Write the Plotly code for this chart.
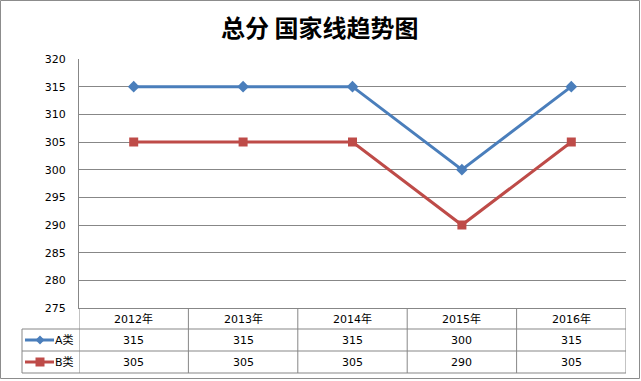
import plotly.graph_objects as go

years = ["2012年", "2013年", "2014年", "2015年", "2016年"]
series_names = ["A类", "B类"]
a_values = [315, 315, 315, 300, 315]
b_values = [305, 305, 305, 290, 305]
y_ticks = [275, 280, 285, 290, 295, 300, 305, 310, 315, 320]
title_text = "总分 国家线趋势图"

W, H = 641, 381
L, R, T, B = 79, 15, 59, 73
PW = W - L - R
PH = H - T - B

def px(x):
    return (x - L) / PW

def py(y):
    return (H - B - y) / PH

blue = "#4A7EBB"
red = "#BE4B48"
grid = "#878787"
font_fam = "DejaVu Sans, Verdana, Noto Sans CJK SC, sans-serif"

xs = list(range(len(years)))
fig = go.Figure()
fig.add_trace(go.Scatter(x=xs, y=a_values, mode="lines+markers", name=series_names[0],
                         line=dict(color=blue, width=3),
                         marker=dict(symbol="diamond", size=9, color=blue)))
fig.add_trace(go.Scatter(x=xs, y=b_values, mode="lines+markers", name=series_names[1],
                         line=dict(color=red, width=3),
                         marker=dict(symbol="square", size=9, color=red)))

shapes = []
line_style = dict(color=grid, width=1)
row_y = [329, 351, 373]
for yy in row_y:
    shapes.append(dict(type="line", xref="paper", yref="paper", x0=px(22), x1=1, y0=py(yy), y1=py(yy), line=line_style))
for k in range(len(years) + 1):
    shapes.append(dict(type="line", xref="x", yref="paper", x0=k - 0.5, x1=k - 0.5, y0=0, y1=py(373), line=line_style))
shapes.append(dict(type="line", xref="paper", yref="paper", x0=px(22), x1=px(22), y0=py(329), y1=py(373), line=line_style))
shapes.append(dict(type="rect", xref="paper", yref="paper", x0=px(0.5), x1=px(639.5), y0=py(0.5), y1=py(378.5),
                   line=dict(color="#8C8C8C", width=1)))

annotations = []
for i, yr in enumerate(years):
    annotations.append(dict(x=i, y=py(319), xref="x", yref="paper", text=yr, showarrow=False,
                            xanchor="center", yanchor="middle",
                            font=dict(size=11, color="black", family=font_fam)))
row_centers = [340, 362]
for vals, yc in zip([a_values, b_values], row_centers):
    for i, v in enumerate(vals):
        annotations.append(dict(x=i, y=py(yc), xref="x", yref="paper", text=str(v), showarrow=False,
                                xanchor="center", yanchor="middle",
                                font=dict(size=11, color="black", family=font_fam)))
for name, col, sym, yc in [(series_names[0], blue, "diamond", 340), (series_names[1], red, "square", 362)]:
    shapes.append(dict(type="line", xref="paper", yref="paper", x0=px(25), x1=px(54), y0=py(yc), y1=py(yc),
                       line=dict(color=col, width=3)))
    if sym == "diamond":
        path = f"M {px(40)} {py(yc-4.5)} L {px(44.5)} {py(yc)} L {px(40)} {py(yc+4.5)} L {px(35.5)} {py(yc)} Z"
        shapes.append(dict(type="path", xref="paper", yref="paper", path=path, fillcolor=col, line=dict(color=col, width=0)))
    else:
        shapes.append(dict(type="rect", xref="paper", yref="paper", x0=px(35.5), x1=px(44.5), y0=py(yc-4.5), y1=py(yc+4.5),
                           fillcolor=col, line=dict(color=col, width=0)))
    annotations.append(dict(x=px(53), y=py(yc), xref="paper", yref="paper", text=name, showarrow=False,
                            xanchor="left", yanchor="middle",
                            font=dict(size=11, color="black", family=font_fam)))

annotations.append(dict(x=px(319), y=py(27), xref="paper", yref="paper", text=f"<b>{title_text}</b>", showarrow=False,
                        xanchor="center", yanchor="middle",
                        font=dict(size=24, color="black", family="Noto Sans CJK SC, sans-serif")))

fig.update_layout(
    width=W, height=H,
    margin=dict(l=L, r=R, t=T, b=B),
    paper_bgcolor="white", plot_bgcolor="white",
    showlegend=False,
    shapes=shapes, annotations=annotations,
    xaxis=dict(range=[-0.5, len(years) - 0.5], showticklabels=False, showgrid=False, zeroline=False,
               showline=True, linecolor=grid, linewidth=1, ticks=""),
    yaxis=dict(range=[275, 320], tickvals=y_ticks, ticktext=[str(v) for v in y_ticks],
               showgrid=True, gridcolor=grid, gridwidth=1, zeroline=False,
               showline=True, linecolor=grid, linewidth=1, ticks="",
               tickfont=dict(size=11, color="black", family=font_fam), ticklabelstandoff=10),
)

fig.write_html("out.html", config={"displayModeBar": False},
               post_script="document.body.style.margin='0';document.body.style.overflow='hidden';")
